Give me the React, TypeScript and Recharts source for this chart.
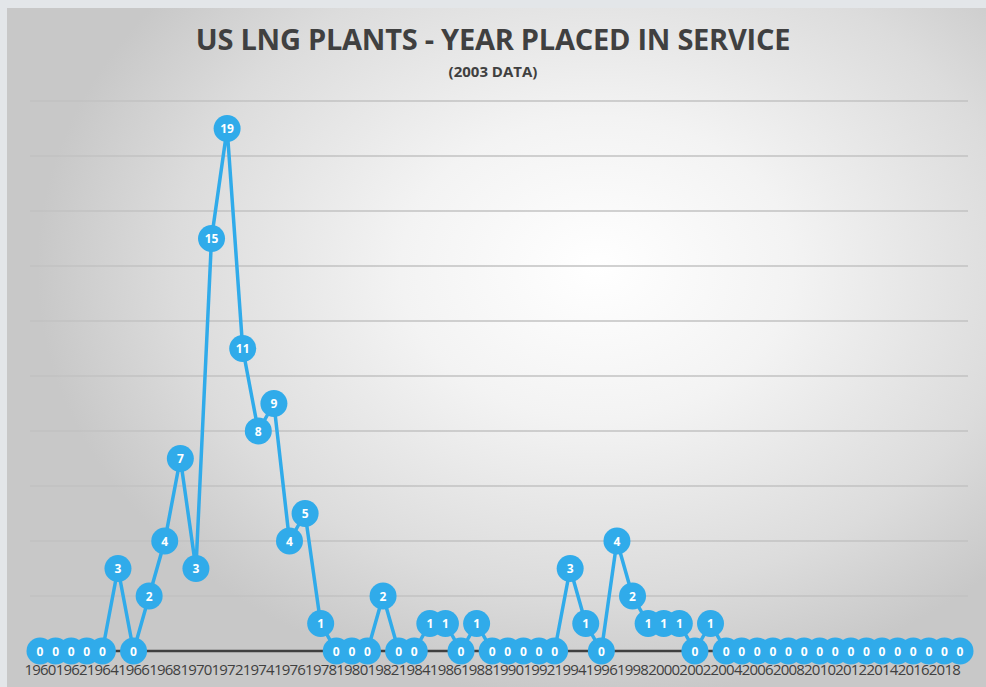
import React from "react";
import { LineChart, Line, XAxis, YAxis, CartesianGrid, LabelList } from "recharts";

const years: number[] = [
  1960, 1961, 1962, 1963, 1964, 1965, 1966, 1967, 1968, 1969,
  1970, 1971, 1972, 1973, 1974, 1975, 1976, 1977, 1978, 1979,
  1980, 1981, 1982, 1983, 1984, 1985, 1986, 1987, 1988, 1989,
  1990, 1991, 1992, 1993, 1994, 1995, 1996, 1997, 1998, 1999,
  2000, 2001, 2002, 2003, 2004, 2005, 2006, 2007, 2008, 2009,
  2010, 2011, 2012, 2013, 2014, 2015, 2016, 2017, 2018, 2019,
];
const plants: number[] = [
  0, 0, 0, 0, 0, 3, 0, 2, 4, 7,
  3, 15, 19, 11, 8, 9, 4, 5, 1, 0,
  0, 0, 2, 0, 0, 1, 1, 0, 1, 0,
  0, 0, 0, 0, 3, 1, 0, 4, 2, 1,
  1, 1, 0, 1, 0, 0, 0, 0, 0, 0,
  0, 0, 0, 0, 0, 0, 0, 0, 0, 0,
];
const xTicks: number[] = years.filter((y) => y % 2 === 0);
const yTicks: number[] = [0, 2, 4, 6, 8, 10, 12, 14, 16, 18, 20];

const title = "US LNG PLANTS - YEAR PLACED IN SERVICE";
const subtitle = "(2003 DATA)";

const data = years.map((y, i) => ({ year: y, value: plants[i] }));

const BLUE = "#30abea";

const Dot = (props: any) => {
  const { cx, cy } = props;
  if (cx == null || cy == null) return null;
  return <circle cx={cx} cy={cy} r={13.5} fill={BLUE} />;
};

const ValueLabel = (props: any) => {
  const { x, y, value } = props;
  if (x == null || y == null) return null;
  return (
    <text
      x={x}
      y={y + 4.5}
      textAnchor="middle"
      fill="#ffffff"
      fontSize={12}
      fontWeight={700}
      fontFamily="'Open Sans', sans-serif"
    >
      {value}
    </text>
  );
};

export default function App() {
  return (
    <div
      style={{
        position: "absolute",
        left: 0,
        top: 0,
        width: 986,
        height: 687,
        background: "#e3e6e9",
        overflow: "hidden",
      }}
    >
      <div
        style={{
          position: "absolute",
          left: 7,
          top: 8,
          width: 979,
          height: 679,
          background:
            "radial-gradient(ellipse 560px 430px at 590px 260px, #ffffff 0%, #f3f3f3 35%, #dcdcdc 75%, #c8c8c8 100%)",
        }}
      />
      <div
        style={{
          position: "absolute",
          left: 0,
          top: 21,
          width: 986,
          textAlign: "center",
          fontFamily: "'Open Sans', sans-serif",
          fontWeight: 700,
          fontSize: 29,
          color: "#404040",
          lineHeight: "36px",
          letterSpacing: -0.25,
        }}
      >
        {title}
      </div>
      <div
        style={{
          position: "absolute",
          left: 0,
          top: 61,
          width: 986,
          textAlign: "center",
          fontFamily: "'Open Sans', sans-serif",
          fontWeight: 700,
          fontSize: 15,
          color: "#404040",
          lineHeight: "20px",
        }}
      >
        {subtitle}
      </div>
      <div style={{ position: "absolute", left: 0, top: 0 }}>
        <LineChart
          width={986}
          height={687}
          data={data}
          margin={{ top: 101, right: 18, bottom: 6, left: 30 }}
        >
          <CartesianGrid
            horizontal={true}
            vertical={false}
            stroke="#c2c2c2"
            strokeWidth={1.5}
          />
          <XAxis
            dataKey="year"
            type="number"
            domain={[1960, 2019]}
            ticks={xTicks}
            interval={0}
            padding={{ left: 10, right: 8 }}
            height={30}
            tickLine={false}
            tickSize={0}
            tickMargin={13}
            axisLine={{ stroke: "#404040", strokeWidth: 2.5 }}
            tick={{
              fill: "#404040",
              fontSize: 15,
              fontFamily: "'Open Sans', sans-serif",
              letterSpacing: -0.8,
            }}
          />
          <YAxis hide domain={[0, 20]} ticks={yTicks} />
          <Line
            type="linear"
            dataKey="value"
            stroke={BLUE}
            strokeWidth={3.5}
            dot={<Dot />}
            activeDot={false}
            isAnimationActive={false}
          >
            <LabelList dataKey="value" content={<ValueLabel />} />
          </Line>
        </LineChart>
      </div>
    </div>
  );
}
